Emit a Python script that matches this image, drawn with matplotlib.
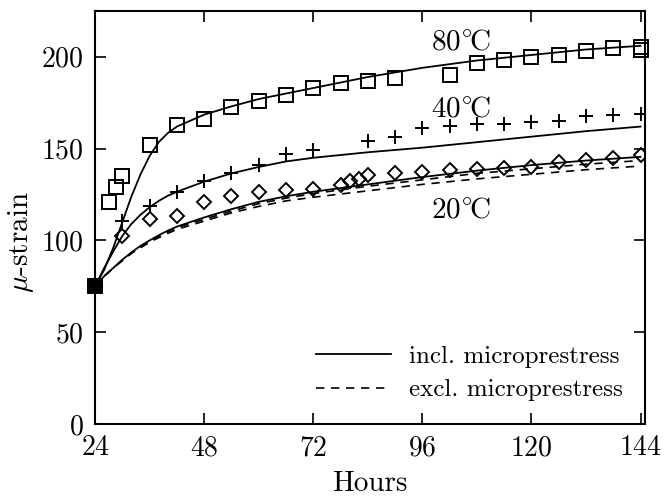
import matplotlib
matplotlib.use('Agg')
import matplotlib.pyplot as plt

plt.rcParams['font.family'] = ['cmr10', 'DejaVu Serif']
plt.rcParams['mathtext.fontset'] = 'cm'
plt.rcParams['axes.formatter.use_mathtext'] = True

# measured data (hours, micro-strain)
h_80 = [24, 27, 28.5, 30, 36, 42, 48, 54, 60, 66, 72, 78, 84, 90, 102, 108, 114, 120, 126, 132, 138, 144, 144]
v_80 = [75, 121, 129, 135, 152, 163, 166, 172.5, 176, 179, 183, 185.5, 187, 188.5, 190, 196.5, 198, 200, 201, 203, 205, 205.5, 203.5]

h_40 = [24, 30, 36, 42, 48, 54, 60, 66, 72, 84, 90, 96, 102, 108, 114, 120, 126, 132, 138, 144]
v_40 = [75, 110.5, 119, 126.5, 132.5, 136.5, 141, 147, 149, 154, 156.5, 161, 162.5, 163.5, 163.5, 164.5, 165, 167.5, 168.5, 169]

h_20 = [24, 30, 36, 42, 48, 54, 60, 66, 72, 78, 80, 82, 84, 90, 96, 102, 108, 114, 120, 126, 132, 138, 144]
v_20 = [75, 102.5, 111.5, 113.5, 121, 124, 126.5, 127.5, 128, 130, 132.5, 133.5, 135.5, 136.5, 137.5, 138.5, 139, 139.5, 140, 142.5, 144, 145, 146.5]

# model curves
hm = [24, 26, 28, 30, 32, 34, 36, 38, 40, 42, 48, 54, 60, 66, 72, 84, 96, 108, 120, 132, 144]
m80 = [75, 84, 96, 110, 124, 136, 146, 153.5, 158.5, 162, 168.5, 173, 177, 180, 183, 189, 194, 198, 201, 204, 206]
m40 = [75, 85, 94, 102.5, 109, 114, 118, 121.5, 124.3, 126.5, 132, 136.5, 140, 143, 145, 148, 150.5, 153.5, 156.5, 159.5, 162]
m20 = [75, 80.5, 85, 89.5, 93.5, 97, 100, 102.8, 105.3, 107.5, 112.5, 117, 121, 124, 126.5, 130.5, 134.5, 138, 141, 143.5, 145.5]
m20_ex_a = [75, 80.5, 85, 89, 93, 96.5, 99.5, 102.2, 104.7, 107, 111.5, 116, 120, 123, 125.5, 129.5, 133, 136.5, 139, 141.5, 143.5]
m20_ex_b = [75, 80.5, 85, 89, 93, 96, 99, 101.5, 103.8, 106, 110.5, 115, 118.5, 121.5, 123.5, 127, 130.5, 133.5, 136, 138.5, 140.5]

temp_labels = [r'$80^{\circ}\!\mathrm{C}$', r'$40^{\circ}\!\mathrm{C}$', r'$20^{\circ}\!\mathrm{C}$']
label_pos = [(104.5, 204), (104.5, 167.5), (104.5, 112.5)]

xticks = [24, 48, 72, 96, 120, 144]
yticks = [0, 50, 100, 150, 200]

fig = plt.figure(figsize=(6.65, 4.97), dpi=100)
ax = fig.add_axes([0.143, 0.147, 0.827, 0.831])

ax.plot(hm, m80, 'k-', lw=1.3, label='incl. microprestress')
ax.plot(hm, m40, 'k-', lw=1.3)
ax.plot(hm, m20, 'k-', lw=1.3)
ax.plot(hm, m20_ex_a, 'k--', lw=1.2, dashes=(5, 4), label='excl. microprestress')
ax.plot(hm, m20_ex_b, 'k--', lw=1.2, dashes=(5, 4))

ax.plot(h_80, v_80, 's', ms=10, mfc='none', mec='k', mew=1.4, clip_on=False)
ax.plot(h_40, v_40, '+', ms=10.5, mec='k', mew=1.4)
ax.plot(h_20, v_20, 'D', ms=7, mfc='none', mec='k', mew=1.4)
ax.plot(h_80[:1], v_80[:1], 's', ms=9, color='k', clip_on=False, zorder=5)

for txt, (x, y) in zip(temp_labels, label_pos):
    ax.text(x, y, txt, fontsize=21, ha='center', va='baseline')

ax.set_xlim(24, 145)
ax.set_ylim(0, 225)
ax.set_xticks(xticks)
ax.set_yticks(yticks)
ax.tick_params(direction='in', length=8, width=1.2, top=True, right=True, labelsize=20)
ax.tick_params(axis='x', pad=8)
ax.tick_params(axis='y', pad=8)
for s in ax.spines.values():
    s.set_linewidth(1.5)

ax.set_xlabel('Hours', fontsize=21, labelpad=7)
ax.set_ylabel(r'$\mu$-strain', fontsize=21)
ax.yaxis.set_label_coords(-0.108, 0.44)

ax.legend(loc='lower right', frameon=False, fontsize=18, handlelength=3.0,
          borderaxespad=0.5, labelspacing=0.45, handletextpad=0.7)

fig.savefig('out.png', dpi=100)
